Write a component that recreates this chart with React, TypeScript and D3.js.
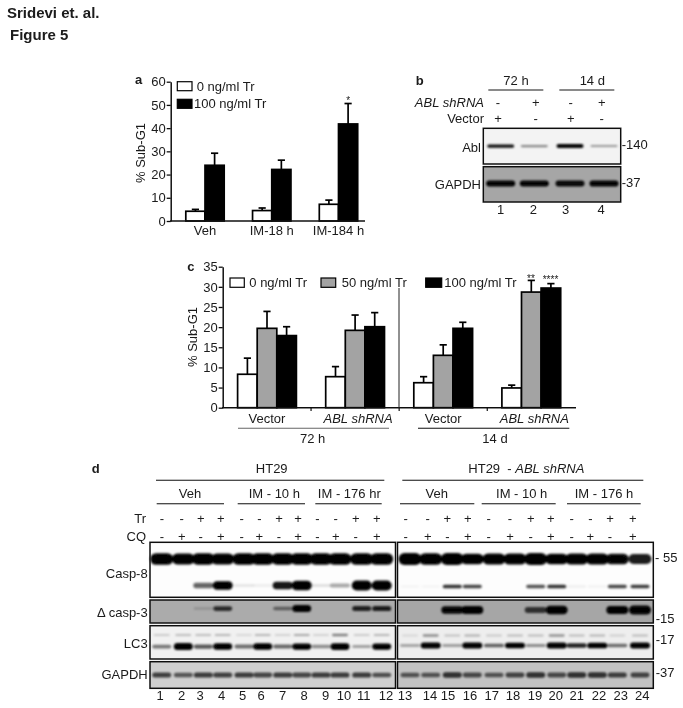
import * as d3 from 'd3';
import * as React from 'react';

const { useRef, useEffect } = React;

const width = 683;
const height = 708;
const font = '"Liberation Sans", Arial, sans-serif';
const fs = 13;

// panel a
const groupsA = ['Veh', 'IM-18 h', 'IM-184 h'];
const a0 = [4.2, 4.5, 7.2];
const a0Err = [5, 5.6, 9];
const a100 = [24, 22.2, 41.8];
const a100Err = [29.2, 26.2, 50.6];

// panel c
const groupsC = ['Vector', 'ABL shRNA', 'Vector ', 'ABL shRNA '];
const c0 = [8.3, 7.7, 6.2, 4.9];
const c0Err = [12.3, 10.2, 7.7, 5.6];
const c50 = [19.7, 19.2, 13, 28.7];
const c50Err = [23.9, 23, 15.6, 31.6];
const c100 = [17.9, 20.1, 19.7, 29.7];
const c100Err = [20.1, 23.6, 21.2, 30.8];

// blot band strength, 0..1, one per lane
const bAbl = [0.7, 0.3, 1, 0.25];
const bGapdh = [0.75, 0.75, 0.7, 0.8];

const casp8TopL = [0.95, 0.8, 0.9, 0.85, 0.95, 0.9, 0.9, 0.88, 0.92, 0.95, 0.95, 0.95];
const casp8LowL = [0, 0, 0.42, 0.8, 0.06, 0.04, 0.68, 0.95, 0.08, 0.22, 1, 1];
const casp3L = [0, 0, 0.1, 0.55, 0, 0, 0.32, 1, 0, 0, 0.6, 0.62];
const lc3UpL = [0.1, 0.14, 0.14, 0.16, 0.06, 0.16, 0.08, 0.2, 0.08, 0.32, 0.1, 0.16];
const lc3LowL = [0.35, 1, 0.45, 0.9, 0.38, 0.92, 0.4, 0.85, 0.28, 0.95, 0.22, 0.85];
const gapdhL = [0.5, 0.42, 0.52, 0.5, 0.52, 0.48, 0.52, 0.48, 0.52, 0.52, 0.52, 0.44];

const casp8TopR = [1, 0.95, 1, 0.78, 0.85, 0.85, 1, 0.78, 0.85, 0.85, 0.72, 0.65];
const casp8LowR = [0.02, 0.02, 0.58, 0.52, 0, 0, 0.48, 0.58, 0.04, 0.03, 0.52, 0.55];
const casp3R = [0, 0, 0.72, 0.82, 0, 0, 0.52, 0.9, 0, 0, 0.82, 1];
const lc3UpR = [0.06, 0.28, 0.12, 0.18, 0.1, 0.14, 0.14, 0.26, 0.14, 0.16, 0.08, 0.14];
const lc3LowR = [0.2, 0.95, 0.22, 0.95, 0.42, 0.9, 0.28, 0.95, 0.62, 0.92, 0.38, 0.95];
const gapdhR = [0.42, 0.42, 0.55, 0.46, 0.42, 0.48, 0.55, 0.46, 0.55, 0.55, 0.5, 0.48];

const trRow = ['-', '-', '+', '+', '-', '-', '+', '+', '-', '-', '+', '+'];
const cqRow = ['-', '+', '-', '+', '-', '+', '-', '+', '-', '+', '-', '+'];
const shRow = ['-', '+', '-', '+'];
const vecRow = ['+', '-', '+', '-'];

// lane centres as measured (lanes are not evenly spaced in the scan)
const lane = (r: number[]) => d3.scaleLinear<number>().domain(r.map((_, i) => i)).range(r);
const bandL = lane([161.7, 183.3, 203.3, 222.7, 244, 262.7, 282.7, 301.7, 321, 340, 361.7, 381.7]);
const bandR = lane([410, 430.7, 452.3, 472.3, 494, 515, 535.7, 556.7, 576.7, 597.3, 617.3, 640]);
const signL = lane([162, 181.7, 200.7, 220.7, 241.7, 259.3, 279, 298, 317.3, 335.7, 355.7, 376.7]);
const signR = lane([405.7, 427.7, 447.3, 467.7, 488.7, 510, 530.7, 550.7, 571.7, 590.3, 610, 632.7]);
const numL = lane([160, 181.7, 200, 221.7, 242.7, 261, 282.7, 304, 325.7, 344, 363.7, 386]);
const numR = lane([405, 430, 448, 470, 491.7, 513, 535, 555.7, 576.7, 599, 620.7, 642.3]);
const bandB = lane([500.7, 534.3, 570, 604]);
const signB = lane([498, 535.7, 570.7, 601.7]);
const numB = lane([500.7, 533.3, 565.7, 601]);

type G = d3.Selection<any, any, any, any>;

const text = (
  g: G,
  x: number,
  y: number,
  s: string,
  opt: { anchor?: string; weight?: string; size?: number; style?: string } = {},
) =>
  g
    .append('text')
    .attr('x', x)
    .attr('y', y)
    .attr('text-anchor', opt.anchor || 'start')
    .attr('font-weight', opt.weight || 'normal')
    .attr('font-style', opt.style || 'normal')
    .attr('font-size', opt.size || fs)
    .attr('fill', '#1a1a1a')
    .text(s);

const hline = (g: G, x1: number, x2: number, y: number, color = '#111') =>
  g
    .append('line')
    .attr('x1', x1)
    .attr('x2', x2)
    .attr('y1', y)
    .attr('y2', y)
    .attr('stroke', color)
    .attr('stroke-width', 1.1);

const drawBars = (
  g: G,
  x: d3.ScalePoint<string>,
  y: d3.ScaleLinear<number, number>,
  barW: number,
  series: { vals: number[]; errs: number[]; fill: string; offset: number }[],
) => {
  series.forEach(s => {
    const cx = (i: number) => (x(x.domain()[i]) as number) + s.offset * barW;
    const sg = g.append('g').selectAll('g').data(s.vals).join('g');
    sg.append('line')
      .attr('x1', (_, i) => cx(i))
      .attr('x2', (_, i) => cx(i))
      .attr('y1', d => y(d))
      .attr('y2', (_, i) => y(s.errs[i]))
      .attr('stroke', '#000')
      .attr('stroke-width', 1.7);
    sg.append('line')
      .attr('x1', (_, i) => cx(i) - 3.6)
      .attr('x2', (_, i) => cx(i) + 3.6)
      .attr('y1', (_, i) => y(s.errs[i]))
      .attr('y2', (_, i) => y(s.errs[i]))
      .attr('stroke', '#000')
      .attr('stroke-width', 1.7);
    sg.append('rect')
      .attr('x', (_, i) => cx(i) - barW / 2)
      .attr('width', barW)
      .attr('y', d => y(d))
      .attr('height', d => y(0) - y(d))
      .attr('fill', s.fill)
      .attr('stroke', '#000')
      .attr('stroke-width', 1.7);
  });
};

const styleAxis = (g: G) => {
  g.selectAll('.domain').attr('stroke', '#111').attr('stroke-width', 1.5);
  g.selectAll('.tick line').attr('stroke', '#111').attr('stroke-width', 1.3);
  g.selectAll('.tick text').attr('font-size', fs).attr('font-family', font).attr('fill', '#1a1a1a');
};

const blot = (
  g: G,
  box: { x0: number; x1: number; y0: number; y1: number; bg: string },
  rows: { vals: number[]; y: number; min: number; max: number; w: number }[],
  xs: (i: number) => number,
) => {
  g.append('rect')
    .attr('x', box.x0)
    .attr('y', box.y0)
    .attr('width', box.x1 - box.x0)
    .attr('height', box.y1 - box.y0)
    .attr('fill', box.bg);
  rows.forEach(r => {
    const h = (d: number) => r.min + d * (r.max - r.min);
    g.append('g')
      .attr('filter', 'url(#soft)')
      .selectAll('rect')
      .data(r.vals)
      .join('rect')
      .attr('x', (_, i) => xs(i) - r.w / 2)
      .attr('width', r.w)
      .attr('y', d => r.y - h(d) / 2)
      .attr('height', h)
      .attr('rx', d => h(d) / 2)
      .attr('fill', '#000')
      .attr('opacity', d => Math.min(1, Math.pow(d * 1.35, 0.9)));
  });
  g.append('rect')
    .attr('x', box.x0)
    .attr('y', box.y0)
    .attr('width', box.x1 - box.x0)
    .attr('height', box.y1 - box.y0)
    .attr('fill', 'none')
    .attr('stroke', '#111')
    .attr('stroke-width', 1.5);
};

const signs = (g: G, row: string[], xs: (i: number) => number, y: number) =>
  row.forEach((s, i) => text(g, xs(i), y, s, { anchor: 'middle' }));

const numbers = (g: G, xs: (i: number) => number, from: number, n: number, y: number) =>
  d3.range(n).forEach(i => text(g, xs(i), y, String(from + i), { anchor: 'middle' }));

export default () => {
  const rootRef = useRef<SVGSVGElement>(null);

  useEffect(() => {
    const rootEl = rootRef.current;
    if (!rootEl) {
      return;
    }
    const svg = d3.select(rootEl);
    svg.selectAll('*').remove();
    svg.attr('font-family', font);

    const defs = svg.append('defs');
    defs
      .append('filter')
      .attr('id', 'soft')
      .attr('x', '-10%')
      .attr('y', '-60%')
      .attr('width', '120%')
      .attr('height', '220%')
      .append('feGaussianBlur')
      .attr('stdDeviation', 0.9);
    // the whole figure is a soft jpeg scan
    defs
      .append('filter')
      .attr('id', 'scan')
      .attr('filterUnits', 'userSpaceOnUse')
      .attr('x', 0)
      .attr('y', 0)
      .attr('width', width)
      .attr('height', height)
      .append('feGaussianBlur')
      .attr('stdDeviation', 0.3);

    const root: G = svg.append('g').attr('filter', 'url(#scan)');

    text(root, 7, 18, 'Sridevi et. al.', { weight: 'bold', size: 15 });
    text(root, 10, 40, 'Figure 5', { weight: 'bold', size: 15 });

    // a
    const ax = d3.scalePoint<string>().domain(groupsA).range([205, 338.5]);
    const ay = d3.scaleLinear().domain([0, 60]).range([221, 81.7]);
    const pa = root.append('g');
    drawBars(pa, ax, ay, 19.2, [
      { vals: a0, errs: a0Err, fill: '#fff', offset: -0.5 },
      { vals: a100, errs: a100Err, fill: '#000', offset: 0.5 },
    ]);
    const aYAxis = pa
      .append('g')
      .attr('transform', 'translate(170.7,0)')
      .call(d3.axisLeft(ay).ticks(6).tickSize(4).tickSizeOuter(0).tickPadding(1));
    styleAxis(aYAxis);
    hline(pa, 170, 365, 221).attr('stroke-width', 1.5);
    groupsA.forEach(d => text(pa, ax(d) as number, 234.5, d, { anchor: 'middle' }));
    text(pa, 145, 153, '% Sub-G1', { anchor: 'middle' }).attr('transform', 'rotate(-90 145 153)');
    text(pa, 135, 84, 'a', { weight: 'bold' });
    text(pa, 348.3, 104, '*', { anchor: 'middle', size: 10 });
    pa.append('rect').attr('x', 177.3).attr('y', 81.7).attr('width', 14.7).attr('height', 9).attr('fill', '#fff').attr('stroke', '#000').attr('stroke-width', 1.2);
    pa.append('rect').attr('x', 177.3).attr('y', 99.3).attr('width', 14.7).attr('height', 9).attr('fill', '#000').attr('stroke', '#000').attr('stroke-width', 1.2);
    text(pa, 196.7, 91, '0 ng/ml Tr');
    text(pa, 194, 107.7, '100 ng/ml Tr');

    // b
    const pb = root.append('g');
    text(pb, 415.7, 85, 'b', { weight: 'bold' });
    text(pb, 516, 85, '72 h', { anchor: 'middle' });
    text(pb, 592.3, 85, '14 d', { anchor: 'middle' });
    hline(pb, 488.3, 543.3, 90);
    hline(pb, 559.3, 614.3, 90);
    text(pb, 484, 106.7, 'ABL shRNA', { anchor: 'end', style: 'italic' });
    text(pb, 484, 123, 'Vector', { anchor: 'end' });
    signs(pb, shRow, signB, 106.7);
    signs(pb, vecRow, signB, 123);
    blot(pb, { x0: 483.3, x1: 620.7, y0: 128.3, y1: 164, bg: '#f3f3f3' }, [{ vals: bAbl, y: 146, min: 1.5, max: 4, w: 27 }], bandB);
    blot(pb, { x0: 483.3, x1: 620.7, y0: 166.7, y1: 202, bg: '#a6a6a6' }, [{ vals: bGapdh, y: 183.5, min: 3, max: 7, w: 29 }], bandB);
    text(pb, 481, 151.7, 'Abl', { anchor: 'end' });
    text(pb, 481, 189, 'GAPDH', { anchor: 'end' });
    text(pb, 621.7, 149, '-140');
    text(pb, 621.7, 187, '-37');
    numbers(pb, numB, 1, 4, 214);

    // c
    const cx = d3.scalePoint<string>().domain(groupsC).range([267, 531.3]);
    const cy = d3.scaleLinear().domain([0, 35]).range([407.7, 266.7]);
    const pc = root.append('g');
    drawBars(pc, cx, cy, 19.6, [
      { vals: c0, errs: c0Err, fill: '#fff', offset: -1 },
      { vals: c50, errs: c50Err, fill: '#a3a3a3', offset: 0 },
      { vals: c100, errs: c100Err, fill: '#000', offset: 1 },
    ]);
    const cYAxis = pc
      .append('g')
      .attr('transform', 'translate(222.7,0)')
      .call(d3.axisLeft(cy).ticks(7).tickSize(4).tickSizeOuter(0).tickPadding(1));
    styleAxis(cYAxis);
    hline(pc, 222, 576, 407.7).attr('stroke-width', 1.5);
    d3.range(3).forEach(i => {
      const tx = ((cx(groupsC[i]) as number) + (cx(groupsC[i + 1]) as number)) / 2;
      pc.append('line').attr('x1', tx).attr('x2', tx).attr('y1', 407.7).attr('y2', 411).attr('stroke', '#111').attr('stroke-width', 1.2);
    });
    pc.append('line').attr('x1', 399).attr('x2', 399).attr('y1', 288).attr('y2', 408).attr('stroke', '#222').attr('stroke-width', 1);
    groupsC.forEach(d =>
      text(pc, (cx(d) as number) + (d.startsWith('ABL') ? 3 : 0), 423, d.trim(), {
        anchor: 'middle',
        style: d.startsWith('ABL') ? 'italic' : 'normal',
      }),
    );
    hline(pc, 238, 389, 428.3, '#666');
    hline(pc, 418, 569.3, 428.3);
    text(pc, 312.7, 443, '72 h', { anchor: 'middle' });
    text(pc, 495, 443, '14 d', { anchor: 'middle' });
    text(pc, 197, 337, '% Sub-G1', { anchor: 'middle' }).attr('transform', 'rotate(-90 197 337)');
    text(pc, 187.3, 271, 'c', { weight: 'bold' });
    text(pc, 531, 282, '**', { anchor: 'middle', size: 10 });
    text(pc, 550.5, 283, '****', { anchor: 'middle', size: 10 });
    pc.append('rect').attr('x', 230).attr('y', 278).attr('width', 14.3).attr('height', 9.3).attr('fill', '#fff').attr('stroke', '#000').attr('stroke-width', 1.2);
    pc.append('rect').attr('x', 321).attr('y', 278).attr('width', 14.7).attr('height', 9.3).attr('fill', '#a3a3a3').attr('stroke', '#000').attr('stroke-width', 1.2);
    pc.append('rect').attr('x', 425.7).attr('y', 278).attr('width', 16).attr('height', 9.3).attr('fill', '#000').attr('stroke', '#000').attr('stroke-width', 1.2);
    text(pc, 249.3, 287, '0 ng/ml Tr');
    text(pc, 341.7, 287, '50 ng/ml Tr');
    text(pc, 444.3, 287, '100 ng/ml Tr');

    // d
    const pd = root.append('g');
    text(pd, 91.7, 473, 'd', { weight: 'bold' });
    text(pd, 271.7, 473.3, 'HT29', { anchor: 'middle' });
    hline(pd, 156, 384.3, 480.3);
    text(pd, 190, 497.7, 'Veh', { anchor: 'middle' });
    hline(pd, 156.7, 224, 503.7);
    text(pd, 274.3, 497.7, 'IM - 10 h', { anchor: 'middle' });
    hline(pd, 237.7, 305, 503.7);
    text(pd, 349.3, 497.7, 'IM - 176 hr', { anchor: 'middle' });
    hline(pd, 315.3, 381.7, 503.7);

    const ttl = text(pd, 468.3, 473.3, 'HT29  - ');
    ttl.attr('xml:space', 'preserve').style('white-space', 'pre');
    ttl.append('tspan').attr('font-style', 'italic').text('ABL shRNA');
    hline(pd, 402.3, 643.3, 480.3);
    text(pd, 436.7, 497.7, 'Veh', { anchor: 'middle' });
    hline(pd, 400, 474.3, 503.7);
    text(pd, 521.7, 497.7, 'IM - 10 h', { anchor: 'middle' });
    hline(pd, 481.7, 555.7, 503.7);
    text(pd, 604, 497.7, 'IM - 176 h', { anchor: 'middle' });
    hline(pd, 567, 640.7, 503.7);

    text(pd, 146, 522.7, 'Tr', { anchor: 'end' });
    text(pd, 146, 540.7, 'CQ', { anchor: 'end' });
    signs(pd, trRow, signL, 522.7);
    signs(pd, cqRow, signL, 540.7);
    signs(pd, trRow, signR, 522.7);
    signs(pd, cqRow, signR, 540.7);

    const L = { x0: 150, x1: 395.5 };
    const R = { x0: 397.5, x1: 653.3 };
    blot(pd, { ...L, y0: 542.3, y1: 597.3, bg: '#fdfdfd' }, [
      { vals: casp8TopL, y: 559, min: 6, max: 12, w: 23 },
      { vals: casp8LowL, y: 585.5, min: 2, max: 10, w: 20 },
    ], bandL);
    blot(pd, { ...L, y0: 600, y1: 623, bg: '#ababab' }, [{ vals: casp3L, y: 608.5, min: 2, max: 7, w: 19 }], bandL);
    blot(pd, { ...L, y0: 625.7, y1: 659, bg: '#f1f1f1' }, [
      { vals: lc3UpL, y: 635, min: 2, max: 3, w: 16 },
      { vals: lc3LowL, y: 646.5, min: 2, max: 7, w: 19 },
    ], bandL);
    blot(pd, { ...L, y0: 661.7, y1: 688.3, bg: '#cfcfcf' }, [{ vals: gapdhL, y: 675, min: 2, max: 8, w: 19 }], bandL);

    blot(pd, { ...R, y0: 542.3, y1: 597.3, bg: '#fdfdfd' }, [
      { vals: casp8TopR, y: 559, min: 6, max: 12, w: 23 },
      { vals: casp8LowR, y: 586.5, min: 2, max: 5, w: 19 },
    ], bandR);
    blot(pd, { ...R, y0: 600, y1: 623, bg: '#a6a6a6' }, [{ vals: casp3R, y: 610, min: 3, max: 9, w: 22 }], bandR);
    blot(pd, { ...R, y0: 625.7, y1: 659, bg: '#eeeeee' }, [
      { vals: lc3UpR, y: 635.5, min: 2, max: 3, w: 16 },
      { vals: lc3LowR, y: 645.5, min: 2, max: 6, w: 20 },
    ], bandR);
    blot(pd, { ...R, y0: 661.7, y1: 688.3, bg: '#c2c2c2' }, [{ vals: gapdhR, y: 675, min: 2, max: 8, w: 19 }], bandR);

    text(pd, 147.7, 577.7, 'Casp-8', { anchor: 'end' });
    text(pd, 147.7, 616.7, 'Δ casp-3', { anchor: 'end' });
    text(pd, 147.7, 647.7, 'LC3', { anchor: 'end' });
    text(pd, 147.7, 679.3, 'GAPDH', { anchor: 'end' });
    text(pd, 655, 561.7, '- 55');
    text(pd, 655.7, 623.3, '-15');
    text(pd, 655.7, 644.3, '-17');
    text(pd, 655.7, 677.3, '-37');
    numbers(pd, numL, 1, 12, 700);
    numbers(pd, numR, 13, 12, 700);
  }, []);

  return (
    <svg
      ref={rootRef}
      width={width}
      height={height}
      viewBox={`0 0 ${width} ${height}`}
      style={{ position: 'absolute', left: 0, top: 0, background: '#fff' }}
    />
  );
};
